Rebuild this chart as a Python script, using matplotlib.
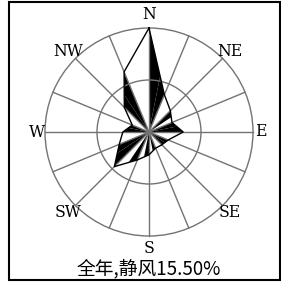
import numpy as np
import matplotlib.pyplot as plt
from matplotlib.patches import Circle, Rectangle

plt.rcParams['font.family'] = ['DejaVu Serif', 'Liberation Serif']

# wind direction frequencies (%), clockwise from N
directions = ['N', 'NNE', 'NE', 'ENE', 'E', 'ESE', 'SE', 'SSE',
              'S', 'SSW', 'SW', 'WSW', 'W', 'WNW', 'NW', 'NNW']
freq = [15.5, 6.0, 4.5, 3.7, 5.1, 3.1, 2.7, 2.6,
        3.4, 4.5, 7.3, 4.8, 3.9, 2.7, 5.2, 9.7]
calm = 15.50
title = '全年,静风%.2f%%' % calm
labels = ['N', 'NE', 'E', 'SE', 'S', 'SW', 'W', 'NW']

# which side of each ray gets the dark half (+1 clockwise, -1 counter-clockwise)
dark_side = [1, -1, 1, 1, -1, 1, -1, 1,
             1, 1, 1, -1, 1, -1, 1, -1]

W, H = 281, 284
cx, cy = 149, 132      # centre in pixels
R_px = 104             # outer ring radius in pixels
rmax = max(freq)
k = R_px / rmax

fig = plt.figure(figsize=(W / 100, H / 100), dpi=100)
ax = fig.add_axes([0, 0, 1, 1])
ax.set_xlim(-cx / k, (W - cx) / k)
ax.set_ylim(-(H - cy) / k, cy / k)
ax.set_aspect('equal')
ax.axis('off')

n = len(freq)
ang = np.deg2rad(np.arange(n) * 360 / n)
r = np.array(freq)
tx = r * np.sin(ang)
ty = r * np.cos(ang)

# shaded halves
for i in range(n):
    j = (i + dark_side[i]) % n
    f = r[i] / (r[i] + r[j])
    px = tx[i] + f * (tx[j] - tx[i])
    py = ty[i] + f * (ty[j] - ty[i])
    ax.fill([0, tx[i], px], [0, ty[i], py], color='black', lw=0, zorder=2)

# rings
for rr in [rmax / 2, rmax]:
    ax.add_patch(Circle((0, 0), rr, fill=False, ec='#737373', lw=1.0, zorder=3))

# rays
for a in ang:
    ax.plot([0, rmax * np.sin(a)], [0, rmax * np.cos(a)], color='#737373', lw=1.0, zorder=3)

# outline
ax.plot(np.append(tx, tx[0]), np.append(ty, ty[0]), color='black', lw=1.0, zorder=4)

# direction labels
lab_r = [1.13, 1.10, 1.08, 1.10, 1.12, 1.10, 1.08, 1.10]
for m, lab in enumerate(labels):
    a = np.deg2rad(m * 45)
    ax.text(lab_r[m] * rmax * np.sin(a), lab_r[m] * rmax * np.cos(a), lab,
            ha='center', va='center', fontsize=12.5, fontstretch='condensed', zorder=5)

ax.text(0, -(269 - cy) / k, title, ha='center', va='center', fontsize=13.5,
        family=['Noto Sans CJK SC', 'DejaVu Sans'])

# frame
ax.add_patch(Rectangle((9 / W, 1 - 280 / H), 271 / W, 278 / H, transform=ax.transAxes,
                       fill=False, ec='black', lw=1.5))

fig.savefig('out.png', dpi=100)
